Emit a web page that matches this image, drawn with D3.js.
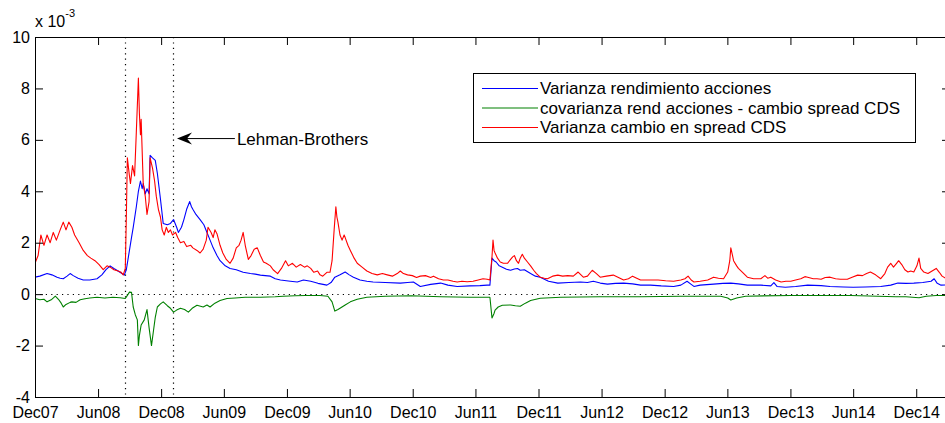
<!DOCTYPE html>
<html>
<head>
<meta charset="utf-8">
<script src="https://cdn.jsdelivr.net/npm/d3@7"></script>
<style>
  body { margin: 0; background: #fff; }
  text { font-family: "Liberation Sans", Arial, sans-serif; }
</style>
</head>
<body>
<script>
// Series values, in units of 1e-3
const varRend = [
  ["2007-12-01",0.66],["2007-12-15",0.7],["2008-01-05",0.8],["2008-01-19",0.75],["2008-02-03",0.66],["2008-02-12",0.62],
  ["2008-02-21",0.6],["2008-03-03",0.7],["2008-03-12",0.8],["2008-03-21",0.72],["2008-04-04",0.62],["2008-04-19",0.55],
  ["2008-05-08",0.55],["2008-05-29",0.6],["2008-06-12",0.75],["2008-06-24",0.95],["2008-07-06",1.1],["2008-07-17",1.0],
  ["2008-07-29",0.9],["2008-08-07",0.82],["2008-08-16",0.74],["2008-08-22",0.95],["2008-08-28",1.45],["2008-09-06",2.2],
  ["2008-09-11",2.6],["2008-09-20",3.4],["2008-09-26",4.0],["2008-10-02",4.4],["2008-10-07",4.1],["2008-10-10",4.3],
  ["2008-10-16",3.9],["2008-10-21",4.1],["2008-10-27",3.9],["2008-10-30",5.4],["2008-11-06",5.3],["2008-11-14",5.2],
  ["2008-11-20",4.7],["2008-11-29",3.7],["2008-12-07",2.75],["2008-12-19",2.7],["2008-12-28",2.75],["2009-01-06",2.9],
  ["2009-01-15",2.6],["2009-01-20",2.4],["2009-01-29",2.6],["2009-02-05",2.9],["2009-02-13",3.3],["2009-02-22",3.6],
  ["2009-02-27",3.4],["2009-03-03",3.3],["2009-03-12",3.1],["2009-03-24",2.9],["2009-04-04",2.7],["2009-04-13",2.4],
  ["2009-04-22",2.1],["2009-05-01",1.8],["2009-05-12",1.5],["2009-05-21",1.3],["2009-06-05",1.1],["2009-06-19",1.0],
  ["2009-07-07",0.95],["2009-07-27",0.85],["2009-08-17",0.8],["2009-08-31",0.78],["2009-09-15",0.74],["2009-09-29",0.72],
  ["2009-10-14",0.7],["2009-10-28",0.6],["2009-11-12",0.55],["2009-12-11",0.5],["2009-12-31",0.47],["2010-01-18",0.55],
  ["2010-02-08",0.5],["2010-03-01",0.42],["2010-03-27",0.35],["2010-04-08",0.45],["2010-04-19",0.66],["2010-05-04",0.75],
  ["2010-05-19",0.86],["2010-05-31",0.75],["2010-06-12",0.66],["2010-07-01",0.55],["2010-07-21",0.5],["2010-08-08",0.47],
  ["2010-09-12",0.45],["2010-10-26",0.43],["2010-11-16",0.45],["2010-12-03",0.47],["2010-12-23",0.3],["2011-01-22",0.38],
  ["2011-02-20",0.43],["2011-03-13",0.35],["2011-04-09",0.3],["2011-05-16",0.32],["2011-06-14",0.33],["2011-07-05",0.35],
  ["2011-07-13",0.35],["2011-07-19",1.4],["2011-07-25",1.3],["2011-07-31",1.25],["2011-08-09",1.1],["2011-08-18",1.05],
  ["2011-08-30",0.97],["2011-09-11",0.93],["2011-09-22",0.98],["2011-10-01",1.0],["2011-10-09",0.93],["2011-10-21",0.95],
  ["2011-11-08",0.8],["2011-11-22",0.7],["2011-12-06",0.66],["2011-12-30",0.5],["2012-01-26",0.43],["2012-02-27",0.45],
  ["2012-04-01",0.47],["2012-04-21",0.45],["2012-05-08",0.5],["2012-05-28",0.43],["2012-06-18",0.39],["2012-07-11",0.42],
  ["2012-08-04",0.43],["2012-08-30",0.4],["2012-09-22",0.35],["2012-10-21",0.35],["2012-11-21",0.32],["2012-12-27",0.3],
  ["2013-01-17",0.35],["2013-02-04",0.5],["2013-02-16",0.38],["2013-02-24",0.3],["2013-03-14",0.35],["2013-04-22",0.39],
  ["2013-05-19",0.42],["2013-06-11",0.43],["2013-07-03",0.4],["2013-07-29",0.35],["2013-09-06",0.35],["2013-10-05",0.32],
  ["2013-10-14",0.45],["2013-10-23",0.3],["2013-11-16",0.27],["2013-12-16",0.3],["2014-01-20",0.35],["2014-02-28",0.33],
  ["2014-03-26",0.3],["2014-05-04",0.28],["2014-06-01",0.27],["2014-07-06",0.28],["2014-08-20",0.3],["2014-09-18",0.35],
  ["2014-10-09",0.43],["2014-11-01",0.42],["2014-11-24",0.43],["2014-12-20",0.45],["2015-01-13",0.5],["2015-01-22",0.6],
  ["2015-01-31",0.42],["2015-02-11",0.35],["2015-03-09",0.36]
];

const covRendCds = [
  ["2007-12-01",-0.17],["2007-12-15",-0.22],["2007-12-27",-0.2],["2008-01-05",-0.3],["2008-01-17",-0.22],["2008-01-29",-0.08],
  ["2008-02-07",-0.2],["2008-02-15",-0.35],["2008-02-21",-0.5],["2008-02-29",-0.4],["2008-03-12",-0.32],["2008-03-17",-0.3],
  ["2008-03-29",-0.32],["2008-04-10",-0.22],["2008-04-24",-0.18],["2008-05-08",-0.15],["2008-05-29",-0.12],["2008-06-21",-0.15],
  ["2008-07-14",-0.12],["2008-08-04",-0.14],["2008-08-19",-0.17],["2008-08-25",-0.05],["2008-08-31",0.08],["2008-09-06",0.07],
  ["2008-09-11",-0.5],["2008-09-17",-0.8],["2008-09-23",-1.0],["2008-09-26",-2.0],["2008-09-29",-1.6],["2008-10-04",-1.2],
  ["2008-10-13",-1.0],["2008-10-21",-0.6],["2008-10-27",-1.3],["2008-11-03",-2.0],["2008-11-08",-1.5],["2008-11-14",-0.9],
  ["2008-11-20",-0.5],["2008-11-29",-0.38],["2008-12-07",-0.3],["2008-12-19",-0.45],["2008-12-28",-0.55],["2009-01-06",-0.7],
  ["2009-01-15",-0.62],["2009-01-26",-0.55],["2009-02-07",-0.6],["2009-02-18",-0.7],["2009-03-01",-0.55],["2009-03-15",-0.43],
  ["2009-04-02",-0.5],["2009-04-13",-0.42],["2009-04-22",-0.5],["2009-05-06",-0.35],["2009-05-21",-0.25],["2009-06-10",-0.17],
  ["2009-07-04",-0.15],["2009-08-02",-0.12],["2009-09-15",-0.12],["2009-10-28",-0.1],["2009-11-20",-0.08],["2009-12-25",-0.06],
  ["2010-01-24",-0.05],["2010-03-07",-0.05],["2010-03-30",-0.08],["2010-04-11",-0.3],["2010-04-19",-0.66],["2010-04-28",-0.6],
  ["2010-05-04",-0.55],["2010-05-19",-0.42],["2010-06-03",-0.3],["2010-06-23",-0.2],["2010-07-21",-0.12],["2010-09-12",-0.08],
  ["2010-11-27",-0.06],["2011-02-20",-0.1],["2011-05-16",-0.12],["2011-07-13",-0.12],["2011-07-19",-0.93],["2011-07-25",-0.75],
  ["2011-07-28",-0.62],["2011-08-06",-0.5],["2011-08-18",-0.43],["2011-09-11",-0.42],["2011-09-25",-0.45],["2011-10-09",-0.47],
  ["2011-10-24",-0.35],["2011-11-08",-0.25],["2011-12-06",-0.16],["2012-02-04",-0.12],["2012-05-28",-0.1],["2012-09-22",-0.1],
  ["2013-01-17",-0.08],["2013-05-13",-0.08],["2013-06-02",-0.15],["2013-06-11",-0.23],["2013-06-28",-0.15],["2013-07-24",-0.08],
  ["2013-12-02",-0.05],["2014-05-25",-0.05],["2014-10-03",-0.1],["2014-11-01",-0.1],["2014-12-09",-0.14],["2014-12-30",-0.08],
  ["2015-01-28",-0.05],["2015-03-09",-0.05]
];

const varCds = [
  ["2007-12-01",1.2],["2007-12-10",1.5],["2007-12-18",2.3],["2007-12-27",1.9],["2008-01-05",2.3],["2008-01-14",2.0],
  ["2008-01-23",2.4],["2008-02-01",2.1],["2008-02-12",2.5],["2008-02-21",2.8],["2008-02-29",2.5],["2008-03-08",2.8],
  ["2008-03-17",2.6],["2008-03-25",2.3],["2008-04-07",2.0],["2008-04-19",1.7],["2008-05-01",1.5],["2008-05-11",1.4],
  ["2008-05-23",1.3],["2008-06-04",1.15],["2008-06-16",0.95],["2008-06-27",1.1],["2008-07-06",1.05],["2008-07-17",0.95],
  ["2008-07-29",0.9],["2008-08-07",0.85],["2008-08-13",0.75],["2008-08-19",1.0],["2008-08-22",3.0],["2008-08-25",5.3],
  ["2008-08-31",4.6],["2008-09-03",4.3],["2008-09-09",5.0],["2008-09-15",4.6],["2008-09-20",6.3],["2008-09-26",8.4],
  ["2008-09-29",7.0],["2008-10-02",6.2],["2008-10-04",6.8],["2008-10-10",4.3],["2008-10-16",3.8],["2008-10-21",3.1],
  ["2008-10-27",3.6],["2008-10-30",5.3],["2008-11-06",4.9],["2008-11-12",4.4],["2008-11-17",3.8],["2008-11-23",3.3],
  ["2008-11-29",3.0],["2008-12-04",2.5],["2008-12-10",2.3],["2008-12-16",2.6],["2008-12-22",2.4],["2008-12-28",2.5],
  ["2009-01-03",2.3],["2009-01-12",2.4],["2009-01-18",2.2],["2009-01-26",2.0],["2009-02-05",2.05],["2009-02-13",1.85],
  ["2009-02-25",1.9],["2009-03-03",1.8],["2009-03-15",1.7],["2009-03-24",1.6],["2009-04-02",1.75],["2009-04-11",2.1],
  ["2009-04-16",2.6],["2009-04-25",2.4],["2009-05-01",2.2],["2009-05-06",2.5],["2009-05-12",2.35],["2009-05-21",1.9],
  ["2009-05-29",1.6],["2009-06-08",1.35],["2009-06-19",1.2],["2009-06-28",1.4],["2009-07-07",1.8],["2009-07-15",1.9],
  ["2009-07-21",2.1],["2009-07-27",2.4],["2009-08-02",1.9],["2009-08-11",1.35],["2009-08-19",1.5],["2009-08-28",1.75],
  ["2009-09-06",1.8],["2009-09-15",1.5],["2009-09-24",1.25],["2009-10-02",1.2],["2009-10-14",1.1],["2009-10-22",0.95],
  ["2009-11-04",0.8],["2009-11-15",1.0],["2009-11-27",1.3],["2009-12-05",1.1],["2009-12-17",1.2],["2009-12-28",1.05],
  ["2010-01-09",1.15],["2010-01-21",1.05],["2010-01-29",1.1],["2010-02-08",1.0],["2010-02-17",0.85],["2010-02-28",0.9],
  ["2010-03-07",0.75],["2010-03-15",0.7],["2010-03-27",0.85],["2010-04-05",0.85],["2010-04-11",1.3],["2010-04-17",2.5],
  ["2010-04-22",3.4],["2010-04-25",3.0],["2010-04-28",2.8],["2010-05-04",2.3],["2010-05-10",2.1],["2010-05-16",2.3],
  ["2010-05-19",2.2],["2010-05-27",1.9],["2010-06-03",1.7],["2010-06-14",1.4],["2010-06-23",1.2],["2010-07-07",1.05],
  ["2010-07-21",0.9],["2010-08-05",0.8],["2010-08-20",0.75],["2010-09-04",0.8],["2010-09-18",0.75],["2010-10-03",0.7],
  ["2010-10-17",0.8],["2010-10-26",0.9],["2010-11-04",0.8],["2010-11-16",0.75],["2010-11-30",0.72],["2010-12-12",0.65],
  ["2010-12-23",0.7],["2011-01-07",0.72],["2011-01-22",0.65],["2011-01-30",0.7],["2011-02-14",0.6],["2011-02-28",0.55],
  ["2011-03-13",0.55],["2011-03-28",0.5],["2011-04-09",0.47],["2011-04-23",0.5],["2011-05-08",0.48],["2011-05-25",0.5],
  ["2011-06-09",0.55],["2011-06-23",0.6],["2011-07-05",0.58],["2011-07-13",0.55],["2011-07-16",1.0],["2011-07-19",1.45],
  ["2011-07-22",2.1],["2011-07-25",1.7],["2011-07-28",1.6],["2011-08-04",1.4],["2011-08-12",1.25],["2011-08-21",1.2],
  ["2011-09-02",1.2],["2011-09-11",1.35],["2011-09-17",1.45],["2011-09-22",1.5],["2011-09-28",1.3],["2011-10-04",1.2],
  ["2011-10-09",1.4],["2011-10-15",1.55],["2011-10-21",1.4],["2011-10-30",1.25],["2011-11-08",1.1],["2011-11-17",0.93],
  ["2011-11-25",0.8],["2011-12-06",0.66],["2011-12-18",0.62],["2011-12-27",0.6],["2012-01-11",0.7],["2012-01-26",0.74],
  ["2012-02-09",0.7],["2012-02-24",0.72],["2012-03-11",0.7],["2012-03-25",0.86],["2012-04-09",0.66],["2012-04-21",0.7],
  ["2012-05-05",0.93],["2012-05-17",0.8],["2012-05-28",0.66],["2012-06-15",0.7],["2012-07-05",0.74],["2012-07-20",0.65],
  ["2012-08-04",0.55],["2012-08-18",0.6],["2012-08-30",0.7],["2012-09-11",0.62],["2012-09-22",0.55],["2012-10-16",0.55],
  ["2012-11-12",0.55],["2012-12-04",0.52],["2012-12-27",0.5],["2013-01-17",0.55],["2013-01-29",0.6],["2013-02-07",0.7],
  ["2013-02-16",0.55],["2013-02-24",0.47],["2013-03-14",0.5],["2013-04-05",0.55],["2013-04-22",0.66],["2013-05-06",0.62],
  ["2013-05-21",0.6],["2013-06-02",0.86],["2013-06-08",1.3],["2013-06-11",1.8],["2013-06-16",1.5],["2013-06-19",1.3],
  ["2013-06-28",1.1],["2013-07-03",1.0],["2013-07-15",0.85],["2013-07-29",0.66],["2013-08-16",0.6],["2013-09-06",0.6],
  ["2013-09-18",0.72],["2013-09-26",0.62],["2013-10-05",0.66],["2013-10-19",0.55],["2013-11-04",0.47],["2013-11-18",0.5],
  ["2013-12-02",0.5],["2013-12-16",0.55],["2013-12-31",0.6],["2014-01-12",0.68],["2014-01-20",0.66],["2014-02-05",0.6],
  ["2014-02-16",0.6],["2014-02-28",0.58],["2014-03-12",0.65],["2014-03-26",0.66],["2014-04-11",0.6],["2014-04-25",0.58],
  ["2014-05-15",0.58],["2014-05-29",0.66],["2014-06-14",0.74],["2014-06-28",0.72],["2014-07-10",0.8],["2014-07-21",0.86],
  ["2014-08-05",0.75],["2014-08-20",0.6],["2014-09-01",0.8],["2014-09-09",1.05],["2014-09-18",1.2],["2014-09-26",1.05],
  ["2014-10-05",1.2],["2014-10-11",1.3],["2014-10-20",1.15],["2014-10-29",0.95],["2014-11-07",0.86],["2014-11-15",0.9],
  ["2014-11-24",0.86],["2014-12-03",1.1],["2014-12-09",1.4],["2014-12-14",1.0],["2014-12-23",0.86],["2015-01-04",0.8],
  ["2015-01-16",0.9],["2015-01-28",1.0],["2015-02-06",0.85],["2015-02-14",0.7],["2015-02-26",0.6],["2015-03-09",0.6]
];

const seriesNames = [
  "Varianza rendimiento acciones",
  "covarianza rend acciones - cambio spread CDS",
  "Varianza cambio en spread CDS"
];
const seriesColors = ["#0000ff", "#008000", "#ff0000"];

const xTickLabels = ["Dec07","Jun08","Dec08","Jun09","Dec09","Jun10","Dec10","Jun11",
                     "Dec11","Jun12","Dec12","Jun13","Dec13","Jun14","Dec14"];
const yTicks = [-4, -2, 0, 2, 4, 6, 8, 10];
const eventDates = ["2008-08-17", "2009-01-05"];   // dotted vertical markers
const lehman = { label: "Lehman-Brothers", tip: "2009-01-16", tail: "2009-07-03", value: 6.05 };

const parse = d3.timeParse("%Y-%m-%d");
const parseTick = d3.timeParse("%b%y");
const fmtTick = d3.timeFormat("%b%y");

const W = 945, H = 423;
const plotL = 35, plotR = 950, plotT = 37, plotB = 397;

const x = d3.scaleTime()
  .domain([parse("2007-12-01"), parse("2015-03-09")])
  .range([plotL, plotR]);
const y = d3.scaleLinear().domain([-4, 10]).range([plotB, plotT]);

const svg = d3.select("body").append("svg")
  .attr("width", W).attr("height", H)
  .style("display", "block");

svg.append("rect").attr("width", W).attr("height", H).attr("fill", "#fff");

svg.append("defs").append("clipPath").attr("id", "plot")
  .append("rect").attr("x", plotL).attr("y", plotT)
  .attr("width", plotR - plotL).attr("height", plotB - plotT);

// dotted reference lines
const dotted = svg.append("g")
  .attr("stroke", "#000").attr("stroke-width", 1.2)
  .attr("stroke-dasharray", "1.2,4.2").attr("fill", "none");

dotted.append("line")
  .attr("x1", plotL).attr("x2", plotR)
  .attr("y1", Math.round(y(0)) + 0.5).attr("y2", Math.round(y(0)) + 0.5);

dotted.selectAll("line.ev")
  .data(eventDates)
  .join("line")
  .attr("class", "ev")
  .attr("x1", d => Math.round(x(parse(d))) + 0.5)
  .attr("x2", d => Math.round(x(parse(d))) + 0.5)
  .attr("y1", plotT).attr("y2", plotB);

// series lines
const line = d3.line()
  .x(d => x(parse(d[0])))
  .y(d => y(d[1]));

const lines = svg.append("g").attr("clip-path", "url(#plot)");
[varRend, covRendCds, varCds].forEach((s, i) => {
  lines.append("path")
    .datum(s)
    .attr("fill", "none")
    .attr("stroke", seriesColors[i])
    .attr("stroke-width", 1.1)
    .attr("stroke-linejoin", "round")
    .attr("d", line);
});

// axes, ticks pointing inward on all four sides
const xTicks = xTickLabels.map(parseTick);

function styleAxis(g) {
  g.selectAll("path, line").attr("stroke", "#000");
  g.selectAll("text")
    .attr("fill", "#000")
    .style("font-size", "16px")
    .style("font-family", "'Liberation Sans', Arial, sans-serif");
}

svg.append("g")
  .attr("transform", `translate(0,${plotB})`)
  .call(d3.axisBottom(x).tickValues(xTicks).tickFormat(fmtTick)
    .tickSizeInner(-8).tickSizeOuter(0).tickPadding(10))
  .call(styleAxis);

svg.append("g")
  .attr("transform", `translate(0,${plotT})`)
  .call(d3.axisTop(x).tickValues(xTicks).tickFormat("")
    .tickSizeInner(-8).tickSizeOuter(0))
  .call(styleAxis);

svg.append("g")
  .attr("transform", `translate(${plotL},0)`)
  .call(d3.axisLeft(y).tickValues(yTicks).tickFormat(d => String(d))
    .tickSizeInner(-8).tickSizeOuter(0).tickPadding(5))
  .call(styleAxis);

svg.append("g")
  .attr("transform", `translate(${plotR},0)`)
  .call(d3.axisRight(y).tickValues(yTicks).tickFormat("")
    .tickSizeInner(-8).tickSizeOuter(0))
  .call(styleAxis);

// exponent label
const expo = svg.append("text")
  .attr("x", plotL).attr("y", 26.5)
  .style("font-size", "16px");
expo.append("tspan").text("x 10");
expo.append("tspan").attr("dy", -10).style("font-size", "11px").text("-3");

// Lehman annotation
const ay = y(lehman.value);
const tipX = x(parse(lehman.tip));
const tailX = x(parse(lehman.tail));
svg.append("line")
  .attr("x1", tipX + 6).attr("x2", tailX)
  .attr("y1", ay).attr("y2", ay)
  .attr("stroke", "#000").attr("stroke-width", 1);
svg.append("path")
  .attr("d", `M${tipX},${ay} L${tipX + 15},${ay - 6} L${tipX + 10},${ay} L${tipX + 15},${ay + 6} Z`)
  .attr("fill", "#000");
svg.append("text")
  .attr("x", tailX + 2).attr("y", ay).attr("dy", "0.36em")
  .style("font-size", "17px")
  .text(lehman.label);

// legend
const lg = svg.append("g");
lg.append("rect")
  .attr("x", 473.5).attr("y", 73.5).attr("width", 442).attr("height", 69)
  .attr("fill", "#fff").attr("stroke", "#000").attr("stroke-width", 1);

const rows = lg.selectAll("g.row")
  .data(seriesNames)
  .join("g")
  .attr("class", "row")
  .attr("transform", (d, i) => `translate(0,${88 + i * 19.5})`);

rows.append("line")
  .attr("x1", 482).attr("x2", 538).attr("y1", 0.5).attr("y2", 0.5)
  .attr("stroke", (d, i) => seriesColors[i]).attr("stroke-width", 1.1);

rows.append("text")
  .attr("x", 540).attr("y", 0).attr("dy", "0.36em")
  .style("font-size", "17px")
  .attr("fill", "#000")
  .text(d => d);
</script>
</body>
</html>
